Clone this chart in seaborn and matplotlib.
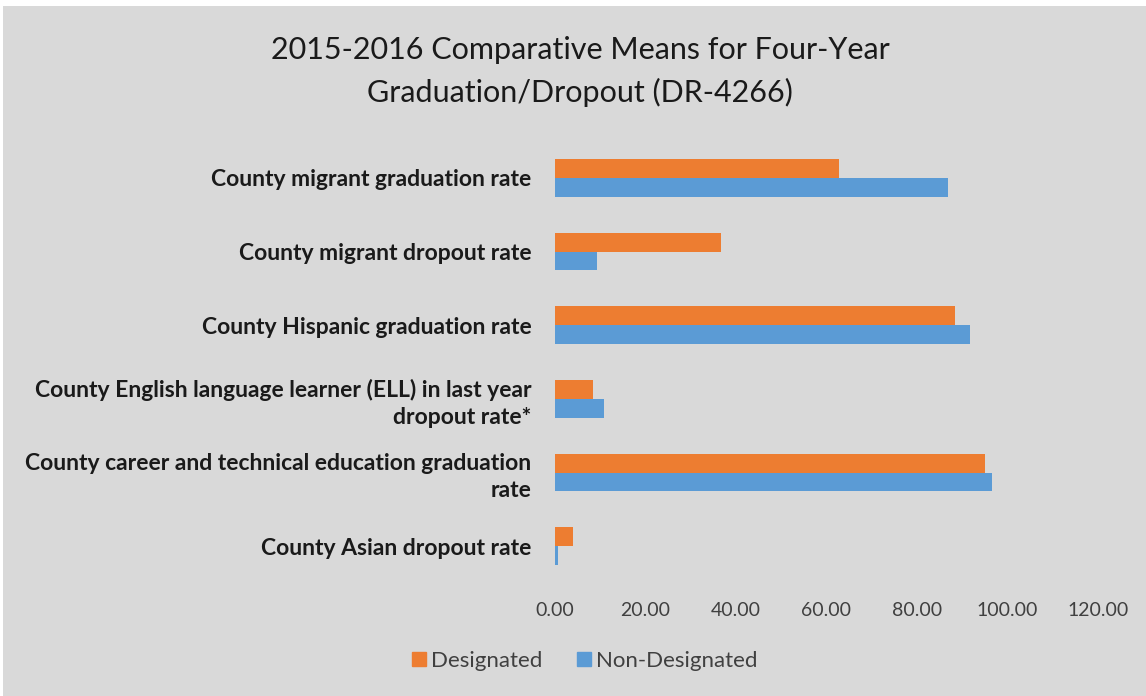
import matplotlib
matplotlib.use("Agg")
import matplotlib.pyplot as plt
import seaborn as sns
import pandas as pd
from matplotlib.patches import Rectangle
from matplotlib.lines import Line2D

categories = [
    "County migrant graduation rate",
    "County migrant dropout rate",
    "County Hispanic graduation rate",
    "County English language learner (ELL) in last year\ndropout rate*",
    "County career and technical education graduation\nrate",
    "County Asian dropout rate",
]
designated = [62.8, 36.7, 88.5, 8.3, 95.1, 3.9]
non_designated = [86.8, 9.3, 91.7, 10.9, 96.6, 0.7]
series = ["Designated", "Non-Designated"]
colors = ["#ED7D31", "#5B9BD5"]
xticks = [0, 20, 40, 60, 80, 100, 120]

df = pd.DataFrame({
    "category": categories * 2,
    "value": designated + non_designated,
    "series": [series[0]] * len(categories) + [series[1]] * len(categories),
})

sns.set_theme(style="white")
plt.rcParams["font.family"] = ["Lato", "DejaVu Sans"]

fig = plt.figure(figsize=(11.46, 6.96), dpi=100, facecolor="white")
bg = Rectangle((3 / 1146, 0), 1 - 3 / 1146, 1 - 6 / 696,
               transform=fig.transFigure, facecolor="#D9D9D9",
               edgecolor="none", zorder=-10)
fig.patches.append(bg)

ax = fig.add_axes([555 / 1146, 1 - 583 / 696, 543 / 1146, 442 / 696])
ax.set_facecolor("none")
ax.set_zorder(5)
sns.barplot(data=df, y="category", x="value", hue="series", order=categories,
            hue_order=series, palette=colors, orient="h", width=0.51,
            ax=ax, legend=False, saturation=1, edgecolor="none")

ax.set_xlim(0, 120)
ax.set_xticks(xticks)
ax.set_xticklabels([f"{t:.2f}" for t in xticks], fontsize=14, color="#404040")
ax.tick_params(axis="x", length=0, pad=14)
ax.tick_params(axis="y", length=0, pad=17)
for lbl in ax.get_yticklabels():
    lbl.set_fontweight("bold")
    lbl.set_fontsize(16.5)
    lbl.set_color("#1a1a1a")
    lbl.set_multialignment("right")
    lbl.set_linespacing(1.35)
ax.set_xlabel("")
ax.set_ylabel("")
for s in ax.spines.values():
    s.set_visible(False)
ax.grid(False)

fig.text(0.506, 1 - 50 / 696, "2015-2016 Comparative Means for Four-Year",
         ha="center", va="center", fontsize=22, color="#1a1a1a")
fig.text(0.506, 1 - 92 / 696, "Graduation/Dropout (DR-4266)",
         ha="center", va="center", fontsize=22, color="#1a1a1a")

handles = [Line2D([0], [0], marker="s", linestyle="none", markersize=10,
                  markerfacecolor=c, markeredgecolor=c) for c in colors]
fig.legend(handles, series, loc="center", bbox_to_anchor=(0.51, 1 - 661 / 696),
           ncol=2, frameon=False, fontsize=16, handlelength=0.7,
           handletextpad=0.2, columnspacing=1.5, labelcolor="#404040")

fig.savefig("out.png", dpi=100, facecolor="white")
